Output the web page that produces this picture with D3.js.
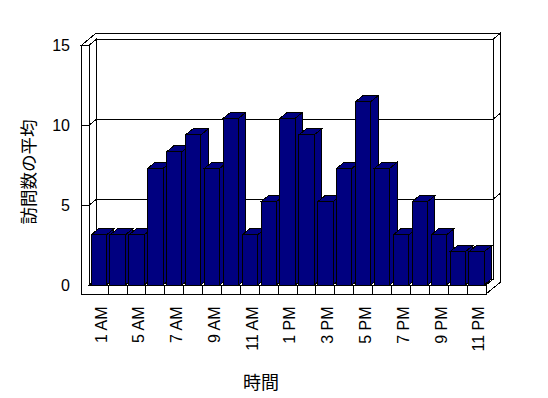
<!DOCTYPE html>
<html>
<head>
<meta charset="utf-8">
<script src="https://cdn.jsdelivr.net/npm/d3@7"></script>
<style>
  html, body { margin: 0; padding: 0; background: #fff; }
  svg { display: block; }
</style>
</head>
<body>
<script>
// ---- data ----
const categories = ["1 AM","3 AM","5 AM","6 AM","7 AM","8 AM","9 AM","10 AM","11 AM","12 PM","1 PM",
                    "2 PM","3 PM","4 PM","5 PM","6 PM","7 PM","8 PM","9 PM","10 PM","11 PM"];
const values = [3.13,3.13,3.13,7.29,8.33,9.38,7.29,10.42,3.13,5.21,10.42,
                9.38,5.21,7.29,11.46,7.29,3.13,5.21,3.13,2.08,2.08];
const yTicks = [0,5,10,15];
const xTickLabels = categories.filter((c,i) => i % 2 === 0);
const yTitle = "訪問数の平均";
const xTitle = "時間";

// ---- layout ----
const W = 548, H = 398;
const xL = 89.3, xR = 486, y0 = 285, y15 = 45;
const wallOut = 81.7, floorBot = 294;
const dx = 7.3, dy = -6;          // one unit of depth (oblique projection)

const svg = d3.select("body").append("svg")
  .attr("width", W).attr("height", H)
  .attr("shape-rendering", "crispEdges");

const y = d3.scaleLinear().domain([0, 15]).range([y0, y15]);
const xCell = d3.scaleBand().domain(categories).range([xL, xR]);
const xBar = d3.scaleBand().domain(categories).range([xL, xR])
  .paddingInner(0.19).paddingOuter(0.095);

const line = d3.line();
const poly = pts => line(pts) + "Z";
const frame = svg.append("g").attr("fill", "#fff").attr("stroke", "#000").attr("stroke-width", 1);

// right end faces (back wall end + floor end)
frame.append("path").attr("d", poly([
  [xR + dx, y(15) + dy], [xR + 2*dx, y(15) + 2*dy], [xR + 2*dx, floorBot + 2*dy],
  [xR, floorBot], [xR, y0], [xR + dx, y0 + dy]
]));
// back wall inner face
frame.append("path").attr("d", poly([
  [xL + dx, y(15) + dy], [xR + dx, y(15) + dy], [xR + dx, y0 + dy], [xL + dx, y0 + dy]
]));
// top of walls
frame.append("path").attr("d", poly([
  [wallOut, y(15)], [xL, y(15)], [xL + dx, y(15) + dy], [xR + dx, y(15) + dy],
  [xR + 2*dx, y(15) + 2*dy], [wallOut + 2*dx, y(15) + 2*dy]
]));
// left wall inner face
frame.append("path").attr("d", poly([
  [xL, y(15)], [xL + dx, y(15) + dy], [xL + dx, y0 + dy], [xL, y0]
]));
// left wall front + floor front (L shape)
frame.append("path").attr("d", poly([
  [wallOut, y(15)], [xL, y(15)], [xL, y0], [xR, y0], [xR, floorBot], [wallOut, floorBot]
]));
// floor top
frame.append("path").attr("d", poly([
  [xL, y0], [xR, y0], [xR + dx, y0 + dy], [xL + dx, y0 + dy]
]));

// gridlines (back wall, right end, left wall, wall-front ticks)
const grid = svg.append("g").attr("stroke", "#000").attr("fill", "none");
yTicks.filter(v => v > 0 && v < 15).forEach(v => {
  const yy = y(v);
  grid.append("path").attr("d", line([
    [wallOut, yy], [xL, yy], [xL + dx, yy + dy], [xR + dx, yy + dy], [xR + 2*dx, yy + 2*dy]
  ]));
});
// category dividers on floor front
grid.selectAll("line.cat").data(categories.slice(1)).enter().append("line")
  .attr("x1", c => xCell(c)).attr("x2", c => xCell(c))
  .attr("y1", y0).attr("y2", floorBot);

// bars (left to right so next front covers previous side)
const bars = svg.append("g").attr("fill", "#000080").attr("stroke", "#000");
categories.forEach((c, i) => {
  const x0 = xBar(c), x1 = x0 + xBar.bandwidth(), yt = y(values[i]);
  const g = bars.append("g");
  g.append("path").attr("d", poly([[x1, yt], [x1 + dx, yt + dy], [x1 + dx, y0 + dy], [x1, y0]]));
  g.append("path").attr("d", poly([[x0, yt], [x1, yt], [x1 + dx, yt + dy], [x0 + dx, yt + dy]]));
  g.append("path").attr("d", poly([[x0, yt], [x1, yt], [x1, y0], [x0, y0]]));
});

// y axis labels
const yAxis = svg.append("g")
  .attr("transform", `translate(${wallOut},0)`)
  .call(d3.axisLeft(y).tickValues(yTicks).tickSize(0).tickPadding(11.7));
yAxis.select(".domain").remove();
yAxis.selectAll("text")
  .attr("font-family", "'Liberation Sans', Arial, sans-serif")
  .attr("font-size", 16).attr("fill", "#000").attr("dy", "0.36em");

// x axis labels
const xAxis = svg.append("g")
  .attr("transform", `translate(2,306.5)`)
  .call(d3.axisBottom(xCell).tickValues(xTickLabels).tickSize(0));
xAxis.select(".domain").remove();
xAxis.selectAll("text")
  .attr("font-family", "'Liberation Sans', Arial, sans-serif")
  .attr("font-size", 16).attr("fill", "#000")
  .attr("transform", "rotate(-90)")
  .attr("x", 0).attr("y", 0).attr("dy", "0.36em")
  .style("text-anchor", "end");

// titles
svg.append("text")
  .attr("x", 261).attr("y", 381)
  .attr("text-anchor", "middle").attr("dominant-baseline", "central")
  .attr("font-family", "'Noto Sans CJK JP', sans-serif").attr("font-size", 18)
  .text(xTitle);
svg.append("text")
  .attr("transform", "translate(27,172) rotate(-90)")
  .attr("text-anchor", "middle").attr("dominant-baseline", "central")
  .attr("font-family", "'Noto Sans CJK JP', sans-serif").attr("font-size", 17.5)
  .text(yTitle);
</script>
</body>
</html>
